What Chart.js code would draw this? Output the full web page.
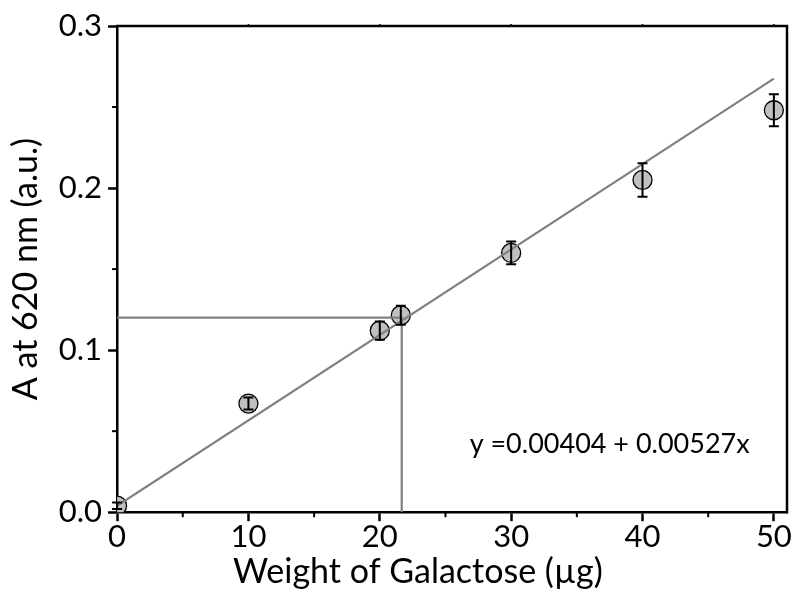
<!DOCTYPE html>
<html>
<head>
<meta charset="utf-8">
<script src="https://cdn.jsdelivr.net/npm/chart.js@4.4.1/dist/chart.umd.min.js"></script>
<style>
  html, body { margin: 0; padding: 0; background: #fff; }
  #wrap { width: 798px; height: 595px; }
</style>
</head>
<body>
<div id="wrap"><canvas id="chart" width="798" height="595"></canvas></div>
<script>
// Calibration data
const weights = [0, 10, 20, 21.6, 30, 40, 50];
const absorbance = [0.004, 0.067, 0.112, 0.1215, 0.160, 0.205, 0.248];
const errors = [0.002, 0.0037, 0.0056, 0.0059, 0.007, 0.0103, 0.0099];

// Linear fit endpoints
const fitX = [0, 50];
const fitY = [0.0040, 0.2675];

// Guide lines for the unknown sample
const guideX = [0, 21.67, 21.67];
const guideY = [0.12, 0.12, 0];

const xTitle = 'Weight of Galactose (µg)';
const equationText = 'y =0.00404 + 0.00527x';
const equationPos = { x: 37.5, y: 0.042 };

const FONT = 'Lato, "Open Sans", sans-serif';

const toPoints = (xs, ys) => xs.map((x, i) => ({ x: x, y: ys[i] }));

// Error bars drawn over the markers
const errorBars = {
    id: 'errorBars',
    afterDatasetsDraw(chart) {
        const { ctx, scales: { x, y } } = chart;
        ctx.save();
        ctx.strokeStyle = '#000';
        ctx.lineWidth = 2;
        weights.forEach((w, i) => {
            const px = x.getPixelForValue(w);
            const top = y.getPixelForValue(absorbance[i] + errors[i]);
            const bot = y.getPixelForValue(absorbance[i] - errors[i]);
            ctx.beginPath();
            ctx.moveTo(px, top); ctx.lineTo(px, bot);
            ctx.moveTo(px - 5, top); ctx.lineTo(px + 5, top);
            ctx.moveTo(px - 5, bot); ctx.lineTo(px + 5, bot);
            ctx.stroke();
        });
        ctx.restore();
    }
};

// Frame on top/right, minor ticks, x title and equation label
const frame = {
    id: 'frame',
    afterDraw(chart) {
        const { ctx, chartArea: a, scales: { x, y } } = chart;
        ctx.save();
        ctx.strokeStyle = '#000';
        ctx.lineWidth = 2.5;
        ctx.beginPath();
        ctx.moveTo(a.left - 1, a.top); ctx.lineTo(a.right, a.top);
        ctx.lineTo(a.right, a.bottom + 1);
        ctx.stroke();
        ctx.lineWidth = 2;
        // minor ticks (short) on bottom and left
        for (let v = 5; v <= 50; v += 10) {
            const px = x.getPixelForValue(v);
            ctx.beginPath(); ctx.moveTo(px, a.bottom); ctx.lineTo(px, a.bottom + 5); ctx.stroke();
        }
        for (let v = 0.05; v < 0.3; v += 0.1) {
            const py = y.getPixelForValue(v);
            ctx.beginPath(); ctx.moveTo(a.left, py); ctx.lineTo(a.left - 5, py); ctx.stroke();
        }
        // tiny ticks on top
        ctx.lineWidth = 1.5;
        for (let v = 10; v <= 50; v += 10) {
            const px = x.getPixelForValue(v);
            ctx.beginPath(); ctx.moveTo(px, a.top); ctx.lineTo(px, a.top - 2); ctx.stroke();
        }
        ctx.fillStyle = '#000';
        ctx.font = '27px ' + FONT;
        ctx.textAlign = 'center';
        ctx.textBaseline = 'middle';
        ctx.fillText(equationText, x.getPixelForValue(equationPos.x), y.getPixelForValue(equationPos.y));
        // x axis title, set a little left of the plot centre as in the original
        ctx.font = '34px ' + FONT;
        ctx.fillText(xTitle, x.getPixelForValue(22.9), chart.height - 23);
        ctx.restore();
    }
};

new Chart(document.getElementById('chart'), {
    type: 'scatter',
    data: {
        datasets: [
            {
                label: 'Samples',
                data: toPoints(weights, absorbance),
                pointRadius: 9.5,
                pointBackgroundColor: '#c0c0c0',
                pointBorderColor: '#000',
                pointBorderWidth: 1.3,
                clip: 0,
                order: 2
            },
            {
                label: 'Fit',
                type: 'line',
                data: toPoints(fitX, fitY),
                borderColor: '#808080',
                borderWidth: 2.2,
                pointRadius: 0,
                fill: false,
                order: 1
            },
            {
                label: 'Guide',
                type: 'line',
                data: toPoints(guideX, guideY),
                borderColor: '#808080',
                borderWidth: 2.2,
                pointRadius: 0,
                fill: false,
                order: 1
            }
        ]
    },
    options: {
        responsive: false,
        animation: false,
        layout: { padding: { top: 26, right: 11, left: 6, bottom: 2 } },
        plugins: { legend: { display: false }, tooltip: { enabled: false } },
        scales: {
            x: {
                type: 'linear',
                min: 0,
                max: 51,
                ticks: {
                    stepSize: 10,
                    includeBounds: false,
                    autoSkip: false,
                    maxRotation: 0,
                    color: '#000',
                    font: { family: FONT, size: 31, lineHeight: 1.0 },
                    padding: 0,
                    callback: (v) => String(Math.round(v))
                },
                grid: { drawOnChartArea: false, drawTicks: true, tickLength: 9, tickColor: '#000', tickWidth: 2.5 },
                border: { display: true, color: '#000', width: 2.5 },
                // reserves the space; the visible title is drawn by the frame plugin
                title: { display: true, text: xTitle, color: 'rgba(0,0,0,0)', font: { family: FONT, size: 34 }, padding: { top: 0, bottom: 0 } }
            },
            y: {
                min: 0,
                max: 0.3,
                ticks: {
                    stepSize: 0.1,
                    includeBounds: false,
                    autoSkip: false,
                    color: '#000',
                    font: { family: FONT, size: 31 },
                    padding: 6,
                    callback: (v) => v.toFixed(1)
                },
                grid: { drawOnChartArea: false, drawTicks: true, tickLength: 9, tickColor: '#000', tickWidth: 2.5 },
                border: { display: true, color: '#000', width: 2.5 },
                title: { display: true, text: 'A at 620 nm (a.u.)', color: '#000', font: { family: FONT, size: 34 }, padding: { top: 0, bottom: 6 } }
            }
        }
    },
    plugins: [errorBars, frame]
});
</script>
</body>
</html>
